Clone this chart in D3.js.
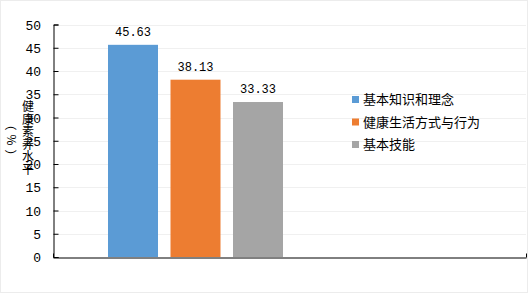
<!DOCTYPE html>
<html>
<head>
<meta charset="utf-8">
<script src="https://cdn.jsdelivr.net/npm/d3@7"></script>
<style>
  body { margin: 0; background: #fff; }
  text { fill: #000; }
</style>
</head>
<body>
<div id="chart"></div>
<script>
// chart data
var series = ["基本知识和理念", "健康生活方式与行为", "基本技能"];
var values = [45.63, 38.13, 33.33];
var colors = ["#5B9BD5", "#ED7D31", "#A5A5A5"];
var yTicks = [0, 5, 10, 15, 20, 25, 30, 35, 40, 45, 50];
var yTitle = "健康素养水平";
var yUnit = "（%）";

var W = 528, H = 294;
var plotLeft = 53, plotRight = 526, plotTop = 24.5, plotBottom = 257;

var svg = d3.select("#chart").append("svg")
  .attr("width", W).attr("height", H);

// faint outer border
svg.append("rect")
  .attr("x", 0.5).attr("y", 0.5)
  .attr("width", W - 1).attr("height", 292)
  .attr("fill", "none").attr("stroke", "#ececec");

var y = d3.scaleLinear().domain([0, 50]).range([plotBottom, plotTop]);

// bars sit in one band group
var x = d3.scaleBand().domain(series).range([108, 283]).paddingInner(0.2);

// gridlines
svg.append("g").selectAll("line")
  .data(yTicks.slice(1))
  .enter().append("line")
  .attr("x1", plotLeft).attr("x2", plotRight)
  .attr("y1", function(d) { return Math.round(y(d)) + 0.5; })
  .attr("y2", function(d) { return Math.round(y(d)) + 0.5; })
  .attr("stroke", "#f0f0f0");

// y axis (ticks point inward)
var yAxis = svg.append("g")
  .attr("transform", "translate(" + (plotLeft + 0.5) + ",0)")
  .call(d3.axisRight(y).tickValues(yTicks).tickSize(5).tickFormat(""));
yAxis.select(".domain").attr("stroke", "#000");
yAxis.selectAll(".tick line").attr("stroke", "#000");

svg.append("g").selectAll("text")
  .data(yTicks)
  .enter().append("text")
  .attr("x", 41)
  .attr("y", function(d) { return y(d) + 5; })
  .attr("text-anchor", "end")
  .attr("font-family", "Liberation Mono, monospace")
  .attr("font-size", 13)
  .text(function(d) { return d; });

// x axis line with end tick
var xAxisScale = d3.scaleLinear().domain([0, 1]).range([plotLeft, plotRight]);
var xAxis = svg.append("g")
  .attr("transform", "translate(0," + (plotBottom + 0.5) + ")")
  .call(d3.axisTop(xAxisScale).tickValues([0, 1]).tickSize(4).tickSizeOuter(0).tickFormat(""));
xAxis.select(".domain").attr("stroke", "#000");
xAxis.selectAll(".tick line").attr("stroke", "#000");

// bars
svg.append("g").selectAll("rect")
  .data(values)
  .enter().append("rect")
  .attr("x", function(d, i) { return x(series[i]); })
  .attr("y", function(d) { return y(d); })
  .attr("width", x.bandwidth())
  .attr("height", function(d) { return plotBottom - y(d); })
  .attr("fill", function(d, i) { return colors[i]; });

// value labels
svg.append("g").selectAll("text")
  .data(values)
  .enter().append("text")
  .attr("x", function(d, i) { return x(series[i]) + x.bandwidth() / 2; })
  .attr("y", function(d) { return y(d) - 9; })
  .attr("text-anchor", "middle")
  .attr("font-family", "Liberation Mono, monospace")
  .attr("font-size", 12)
  .text(function(d) { return d.toFixed(2); });

// y title: stacked chars + rotated unit
var title = svg.append("text")
  .attr("font-family", "Noto Sans CJK SC")
  .attr("font-size", 12)
  .attr("text-anchor", "middle");
title.selectAll("tspan")
  .data(yTitle.split(""))
  .enter().append("tspan")
  .attr("x", 28)
  .attr("y", function(d, i) { return 111 + i * 12.5; })
  .text(function(d) { return d; });

svg.append("text")
  .attr("transform", "translate(16,138) rotate(-90)")
  .attr("text-anchor", "middle")
  .attr("font-family", "Noto Sans CJK SC")
  .attr("font-size", 12)
  .attr("letter-spacing", 4)
  .text(yUnit);

// legend
var legend = svg.append("g").selectAll("g")
  .data(series)
  .enter().append("g")
  .attr("transform", function(d, i) { return "translate(352," + (96 + i * 22.5) + ")"; });
legend.append("rect")
  .attr("width", 7).attr("height", 7)
  .attr("fill", function(d, i) { return colors[i]; });
legend.append("text")
  .attr("x", 11).attr("y", 8)
  .attr("font-family", "Noto Sans CJK SC")
  .attr("font-size", 13)
  .text(function(d) { return d; });
</script>
</body>
</html>
